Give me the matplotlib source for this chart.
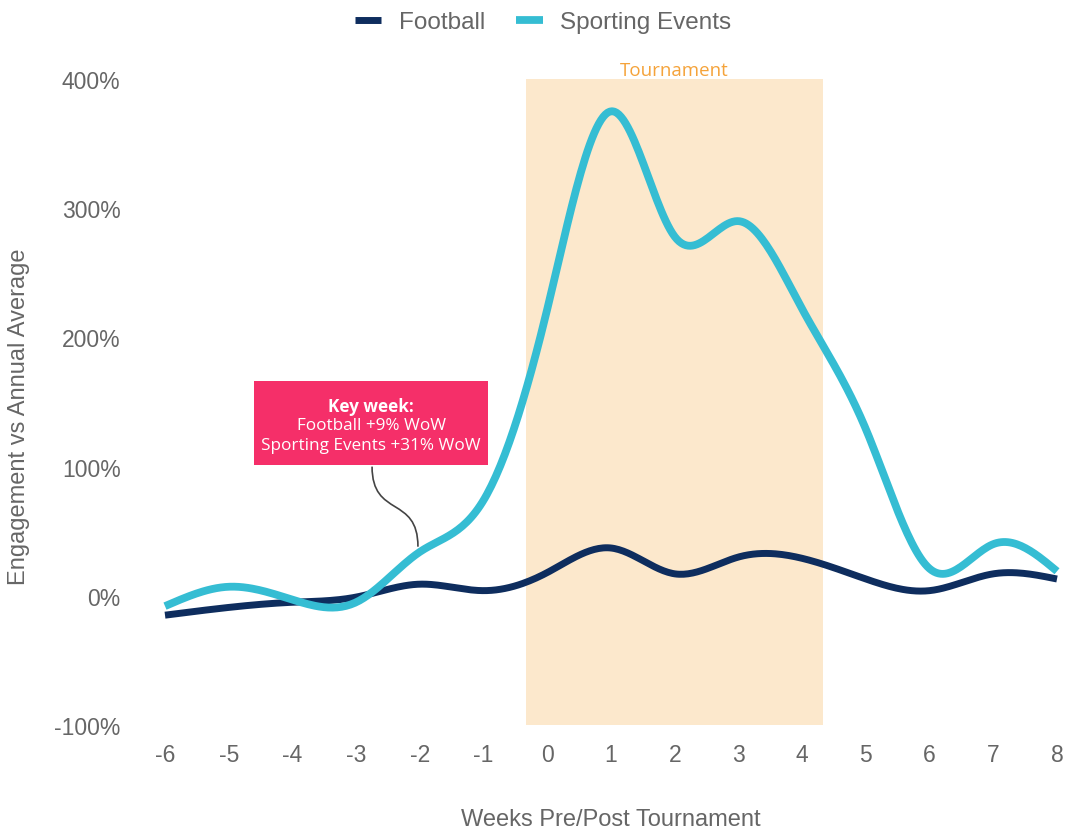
import numpy as np
import matplotlib
matplotlib.use("Agg")
import matplotlib.pyplot as plt
from matplotlib.patches import Rectangle, PathPatch
from matplotlib.path import Path
import matplotlib.ticker as ticker

# data
weeks = [-6, -5, -4, -3, -2, -1, 0, 1, 2, 3, 4, 5, 6, 7, 8]
football = [-15, -9, -5, -1, 9, 4, 18, 37, 17, 30, 29, 13, 4, 17, 13]
sporting = [-8, 7, -3, -5, 34, 74, 222, 375, 278, 290, 222, 129, 21, 40, 19]

NAVY = "#0E2D5E"
CYAN = "#35BDD3"
PINK = "#F52F69"
SPAN = "#FCE8CC"
ORANGE = "#F5A33A"
GREY = "#666666"

plt.rcParams["font.family"] = ["Liberation Sans", "DejaVu Sans"]
plt.rcParams["axes.unicode_minus"] = False


def smooth(x, y, n=400):
    """Natural cubic spline through the points, for drawing only."""
    x = np.asarray(x, float)
    y = np.asarray(y, float)
    k = len(x)
    h = np.diff(x)
    A = np.zeros((k, k))
    b = np.zeros(k)
    A[0, 0] = A[-1, -1] = 1
    for i in range(1, k - 1):
        A[i, i - 1] = h[i - 1]
        A[i, i] = 2 * (h[i - 1] + h[i])
        A[i, i + 1] = h[i]
        b[i] = 6 * ((y[i + 1] - y[i]) / h[i] - (y[i] - y[i - 1]) / h[i - 1])
    M = np.linalg.solve(A, b)
    xs = np.linspace(x[0], x[-1], n)
    idx = np.clip(np.searchsorted(x, xs) - 1, 0, k - 2)
    x0, x1 = x[idx], x[idx + 1]
    hh = x1 - x0
    t0, t1 = x1 - xs, xs - x0
    ys = (M[idx] * t0 ** 3 + M[idx + 1] * t1 ** 3) / (6 * hh) \
        + (y[idx] / hh - M[idx] * hh / 6) * t0 \
        + (y[idx + 1] / hh - M[idx + 1] * hh / 6) * t1
    return xs, ys


fig = plt.figure(figsize=(10.66, 8.29), dpi=100)
ax = fig.add_axes([165 / 1066, 103 / 829, 892 / 1066, 646 / 829])

# tournament span
ax.axvspan(-0.33, 4.33, color=SPAN, zorder=0, lw=0)
ax.text(2.0, 400, "Tournament", color=ORANGE, fontsize=13.5, ha="center", va="bottom",
        family=["Open Sans", "DejaVu Sans"])

xs, ys = smooth(weeks, football)
ax.plot(xs, ys, color=NAVY, lw=5, solid_capstyle="butt", label="Football", zorder=3, clip_on=False)
xs, ys = smooth(weeks, sporting)
ax.plot(xs, ys, color=CYAN, lw=5.6, solid_capstyle="butt", label="Sporting Events", zorder=4, clip_on=False)

# key week callout
ax.add_patch(Rectangle((-4.60, 101), 3.67, 65, color=PINK, zorder=5, lw=0))
txt = dict(color="white", fontsize=12.3, ha="center", va="center", zorder=6,
           family=["Open Sans", "DejaVu Sans"])
ax.text(-2.765, 147, "Key week:", fontweight="bold", **txt)
ax.text(-2.765, 132, "Football +9% WoW", **txt)
ax.text(-2.765, 117, "Sporting Events +31% WoW", **txt)
conn = Path([(-2.75, 100), (-2.75, 60), (-2.03, 78), (-2.03, 38)],
            [Path.MOVETO, Path.CURVE4, Path.CURVE4, Path.CURVE4])
ax.add_patch(PathPatch(conn, fill=False, edgecolor="#444444", lw=1.2, zorder=2))

ax.set_xlim(-6, 8)
ax.set_ylim(-100, 400)
ax.set_xticks(weeks)
ax.set_yticks(range(-100, 401, 100))
ax.yaxis.set_major_formatter(ticker.FuncFormatter(lambda v, p: f"{v:.0f}%"))
ax.tick_params(length=0, labelsize=16.5, labelcolor=GREY)
ax.tick_params(axis="x", pad=13)
ax.tick_params(axis="y", pad=32)
for s in ax.spines.values():
    s.set_visible(False)

ax.set_xlabel("Weeks Pre/Post Tournament", fontsize=17, color=GREY, labelpad=30)
ax.set_ylabel("Engagement vs Annual Average", fontsize=17, color=GREY)
ax.yaxis.set_label_coords(-0.151, 0.478)

ax.legend(loc="upper center", bbox_to_anchor=(543 / 1066, 1.0), bbox_transform=fig.transFigure,
          ncol=2, frameon=False, fontsize=17.5, labelcolor=GREY, handlelength=1.1,
          handletextpad=0.7, columnspacing=1.3, borderaxespad=0.1)

fig.savefig("out.png", dpi=100, facecolor="white")
